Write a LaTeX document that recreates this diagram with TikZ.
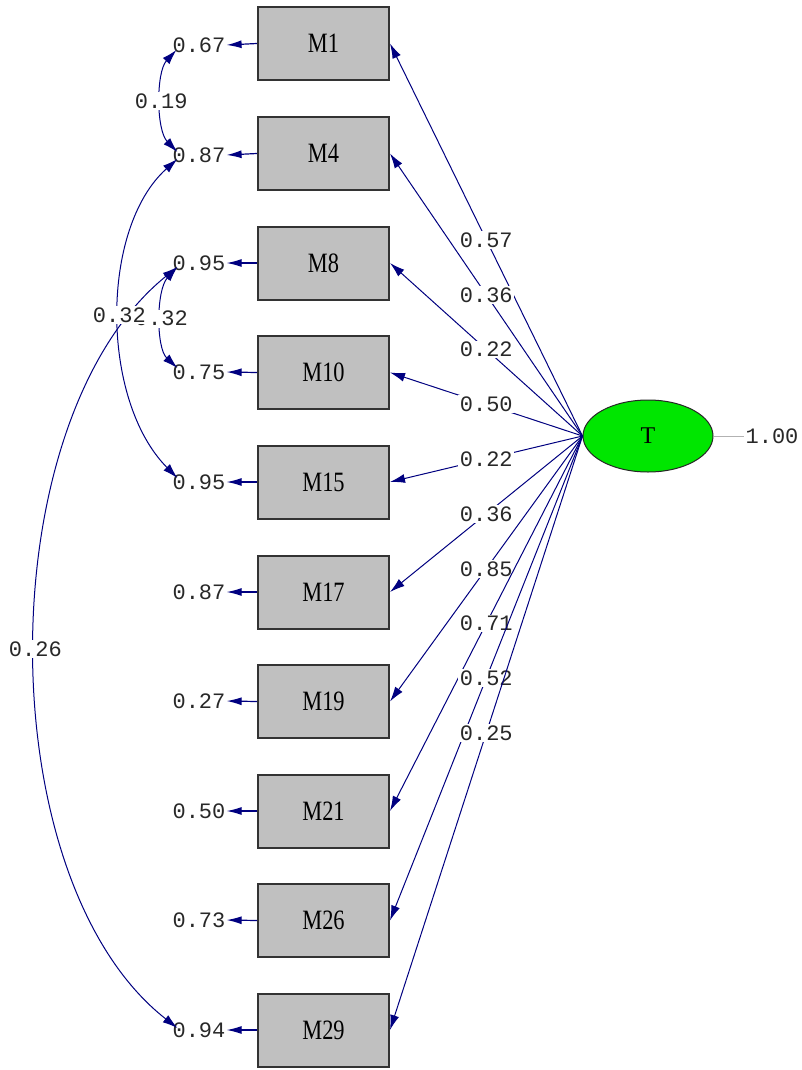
\documentclass[tikz,border=0pt]{standalone}
\usepackage{fontspec}
\setmainfont{Liberation Serif}
\newfontfamily\numfont{Liberation Mono}
\newfontfamily\boxfont[FakeStretch=0.8]{Liberation Serif}
\usetikzlibrary{arrows.meta,shapes.geometric}
\definecolor{navy}{RGB}{0,0,128}
\definecolor{boxgray}{RGB}{192,192,192}
\definecolor{latgreen}{RGB}{0,230,0}
\definecolor{numtext}{RGB}{40,40,40}
\tikzset{
  obs/.style={draw=black!80, line width=2pt, fill=boxgray, minimum width=131pt, minimum height=73pt, inner sep=0pt, font=\boxfont\fontsize{28}{28}\selectfont},
  lat/.style={ellipse, draw=black!85, line width=1pt, fill=latgreen, minimum width=130pt, minimum height=72pt, inner sep=0pt, font=\fontsize{24}{24}\selectfont},
  num/.style={font=\numfont\fontsize{22}{22}\selectfont, text=numtext, inner sep=1pt},
  numlbl/.style={num, fill=white, inner sep=1.5pt},
  load/.style={draw=navy, line width=1pt, -{Latex[length=15pt,width=9pt]}},
  errarr/.style={draw=navy, line width=1.2pt, -{Latex[length=15pt,width=8pt]}},
  cov/.style={draw=navy, line width=1pt, {Latex[length=15pt,width=9pt]}-{Latex[length=15pt,width=9pt]}},
}
\begin{document}
\begin{tikzpicture}[x=1pt,y=-1pt]
\useasboundingbox[fill=white] (0,0) rectangle (801,1070);
% observed variables
\foreach \n/\y in {1/43.5,4/153.5,8/263,10/372.5,15/482,17/592,19/701.5,21/811,26/920.5,29/1030}{
  \node[obs] (M\n) at (323.5,\y) {M\n};
}
% error variances
\foreach \n/\y/\v in {1/45/0.67,4/155/0.87,8/263/0.95,10/372/0.75,15/482/0.95,17/592/0.87,19/701/0.27,21/811/0.50,26/920/0.73,29/1030/0.94}{
  \node[num] (e\n) at (199,\y) {\v};
  \draw[errarr] (M\n.west) -- (e\n.east);
}
% latent
\node[lat] (T) at (648,436) {T};
\node[num] (v) at (772,436) {1.00};
\draw[gray!60, line width=1pt] (T.east) -- (v.west);
% loadings
\foreach \n/\v in {1/0.57,4/0.36,8/0.22,10/0.50,15/0.22,17/0.36,19/0.85,21/0.71,26/0.52,29/0.25}{
  \draw[load] (T.west) -- node[numlbl, pos=0.5] {\v} (M\n.east);
}
% covariances
\draw[cov] ([shift={(5,5)}]e1.west) .. controls (156,72) and (156,130) .. node[numlbl,pos=0.5] {0.19} ([shift={(6,-3)}]e4.west);
\draw[cov] ([shift={(6,4)}]e8.west) .. controls (156,290) and (156,348) .. node[numlbl,pos=0.5] {0.32} ([shift={(6,-4)}]e10.west);
\draw[cov] ([shift={(6,4)}]e8.west) .. controls (-12,420) and (-12,880) .. node[numlbl,pos=0.5] {0.26} ([shift={(6,-2)}]e29.west);
\draw[cov] ([shift={(6,4)}]e4.west) .. controls (100,228) and (100,400) .. node[numlbl,pos=0.5] {0.32} ([shift={(6,-4)}]e15.west);
\end{tikzpicture}
\end{document}
